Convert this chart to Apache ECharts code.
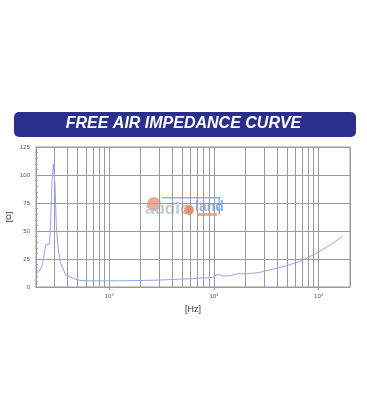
<!DOCTYPE html>
<html>
<head>
<meta charset="utf-8">
<script src="https://cdn.jsdelivr.net/npm/echarts@6/dist/echarts.min.js"></script>
<style>html,body{margin:0;padding:0;background:#fff;}#c{width:367px;height:420px;}</style>
</head>
<body>
<div id="c"></div>
<script>
const titleText = 'FREE AIR IMPEDANCE CURVE';
const xName = '[Hz]';
const yName = '[Ω]';
const freq = [20, 21.5, 23, 24.8, 27, 27.7, 28.5, 29.3, 30.4, 31.3, 32.7, 34.5, 38.5, 41.4, 51.6, 64, 125, 180, 300, 627, 974, 1050, 1127, 1210, 1410, 1750, 1960, 2730, 3160, 4550, 6580, 9500, 13700, 17000];
const impedance = [11.5, 14, 19.6, 37.5, 38.5, 63, 95, 110, 91, 54, 33, 21, 10.7, 9.2, 6, 5.5, 5.5, 5.7, 6.2, 7.5, 8.5, 10.5, 11.3, 9.8, 10, 12.2, 11.5, 13, 14.5, 18, 22.6, 30, 39, 45.5];
const minorFreqs = [30, 40, 50, 60, 70, 80, 90, 200, 300, 400, 500, 600, 700, 800, 900, 2000, 3000, 4000, 5000, 6000, 7000, 8000, 9000];
const yTicks = [0, 25, 50, 75, 100, 125];

const chart = echarts.init(document.getElementById('c'), null, {renderer: 'canvas'});
const gridColor = '#9a9a9a';
chart.setOption({
  animation: false,
  backgroundColor: '#fff',
  graphic: [
    {type: 'rect', left: 14, top: 112, shape: {width: 342, height: 25, r: 5}, style: {fill: '#2b2f8c'}},
    {type: 'text', left: 'center', top: 116, style: {text: titleText, fill: '#fff', font: 'italic bold 16px "Liberation Sans", Arial, sans-serif'}},
    {type: 'circle', shape: {cx: 154, cy: 204, r: 7}, style: {fill: 'rgba(240,140,110,0.75)'}, z: 1},
    {type: 'rect', shape: {x: 162, y: 197, width: 58, height: 1.5}, style: {fill: 'rgba(80,150,230,0.7)'}, z: 1},
    {type: 'rect', shape: {x: 218.5, y: 197, width: 1.5, height: 18}, style: {fill: 'rgba(80,150,230,0.7)'}, z: 1},
    {type: 'text', left: 145, top: 201, style: {text: 'audio', fill: 'rgba(175,190,205,0.8)', font: 'bold 17px "Liberation Sans", Arial, sans-serif'}, z: 2},
    {type: 'circle', shape: {cx: 189, cy: 210, r: 5}, style: {fill: 'rgba(240,130,90,0.85)'}, z: 3},
    {type: 'text', left: 195, top: 200, style: {text: 'land', fill: 'rgba(110,150,210,0.75)', font: 'bold 14px "Liberation Sans", Arial, sans-serif'}, z: 2},
    {type: 'rect', shape: {x: 198, y: 213, width: 19, height: 3}, style: {fill: 'rgba(240,150,110,0.8)'}, z: 2}
  ],
  grid: {left: 36, right: 17, top: 147, bottom: 133, show: true, borderColor: gridColor, borderWidth: 1, containLabel: false, outerBoundsMode: 'none'},
  xAxis: {
    type: 'log', logBase: 10, min: 20, max: 20000,
    name: xName, nameLocation: 'middle', nameGap: 18, nameMoveOverlap: false,
    nameTextStyle: {fontSize: 9, color: '#333', fontFamily: 'Liberation Sans'},
    axisLine: {lineStyle: {color: gridColor}},
    axisTick: {show: true, length: 3, lineStyle: {color: gridColor}},
    splitLine: {show: true, lineStyle: {color: gridColor, width: 1}},
    axisLabel: {
      margin: 6, fontSize: 6, color: '#555', fontFamily: 'Liberation Sans',
      showMinLabel: false, showMaxLabel: false,
      formatter: function (v) {
        const e = Math.round(Math.log10(v));
        if (Math.abs(Math.pow(10, e) - v) > 1e-6 * v) return '';
        return '10{s|' + e + '}';
      },
      rich: {s: {fontSize: 4, verticalAlign: 'top', padding: [0, 0, 3, 0], color: '#555'}}
    }
  },
  yAxis: {
    type: 'value', min: yTicks[0], max: yTicks[yTicks.length - 1], interval: 25,
    name: yName, nameLocation: 'middle', nameGap: 23, nameRotate: 90, nameMoveOverlap: false,
    nameTextStyle: {fontSize: 8, color: '#333', fontFamily: 'Liberation Sans'},
    axisLine: {show: true, lineStyle: {color: gridColor}},
    axisTick: {show: true, inside: true, length: 3, lineStyle: {color: gridColor}},
    minorTick: {show: true, splitNumber: 5, length: 2, lineStyle: {color: gridColor}},
    splitLine: {show: true, lineStyle: {color: gridColor, width: 1}},
    axisLabel: {fontSize: 6, color: '#555', margin: 6, fontFamily: 'Liberation Sans'}
  },
  series: [{
    type: 'line',
    data: freq.map((f, i) => [f, impedance[i]]),
    showSymbol: false,
    smooth: false,
    lineStyle: {color: '#94a3f6', width: 1},
    z: 5,
    markLine: {
      silent: true, symbol: ['none', 'none'], label: {show: false},
      lineStyle: {type: 'solid', color: gridColor, width: 1},
      data: minorFreqs.map(f => ({xAxis: f}))
    }
  }]
});
</script>
</body>
</html>
